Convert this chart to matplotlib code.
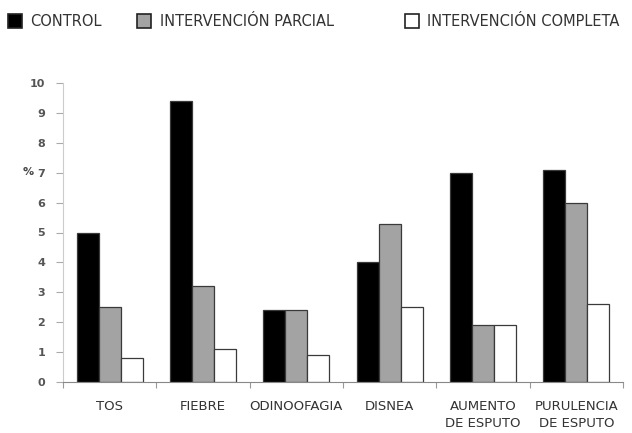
import matplotlib
matplotlib.use("Agg")
import matplotlib.pyplot as plt
from matplotlib.patches import Rectangle
import numpy as np

categories = ["TOS", "FIEBRE", "ODINOOFAGIA", "DISNEA", "AUMENTO\nDE ESPUTO", "PURULENCIA\nDE ESPUTO"]
series_names = ["CONTROL", "INTERVENCIÓN PARCIAL", "INTERVENCIÓN COMPLETA"]
control = [5.0, 9.4, 2.4, 4.0, 7.0, 7.1]
parcial = [2.5, 3.2, 2.4, 5.3, 1.9, 6.0]
completa = [0.8, 1.1, 0.9, 2.5, 1.9, 2.6]
y_ticks = list(range(0, 11))

colors = ["#000000", "#a3a3a3", "#ffffff"]
plt.rcParams["font.family"] = ["DejaVu Sans"]

fig = plt.figure(figsize=(6.32, 4.33), dpi=100)
ax = fig.add_axes([63 / 632, 1 - 382 / 433, (623 - 63) / 632, (382 - 83) / 433])

x = np.arange(len(categories))
w = 0.235
for i, (vals, c) in enumerate(zip([control, parcial, completa], colors)):
    ax.bar(x + (i - 1) * w, vals, width=w, color=c, edgecolor="#3a3a3a", linewidth=0.9)

ax.set_xlim(-0.5, len(categories) - 0.5)
ax.set_ylim(0, 10)
ax.set_yticks(y_ticks)
ax.set_yticklabels([str(t) for t in y_ticks], fontsize=8, color="#555555", fontweight="bold")
ax.set_xticks(np.arange(len(categories) + 1) - 0.5)
ax.set_xticklabels([])
ax.set_xticks(x, minor=True)
ax.set_xticklabels(categories, minor=True, fontsize=9.5, color="#333333", linespacing=1.35)
ax.tick_params(axis="x", which="minor", length=0, pad=13)
ax.tick_params(axis="x", which="major", length=4, color="#999999", direction="out")
ax.tick_params(axis="y", length=5, color="#aaaaaa", pad=8)
for s in ["top", "right"]:
    ax.spines[s].set_visible(False)
ax.spines["left"].set_color("#cccccc")
ax.spines["bottom"].set_color("#888888")

fig.text(28 / 632, 1 - 172 / 433, "%", fontsize=8, color="#444444", fontweight="bold",
         ha="center", va="center")

# legend row across the top
legend_x = [(8, 30), (137, 160), (405, 427)]
for (sx, tx), c, name in zip(legend_x, colors, series_names):
    fig.patches.append(Rectangle((sx / 632, 1 - 28 / 433), 14 / 632, 14 / 433,
                                 transform=fig.transFigure, facecolor=c,
                                 edgecolor="#222222", linewidth=1.2))
    fig.text(tx / 632, 1 - 21 / 433, name, fontsize=10.5, color="#333333", va="center", ha="left")

fig.savefig("out.png", dpi=100, facecolor="white")
